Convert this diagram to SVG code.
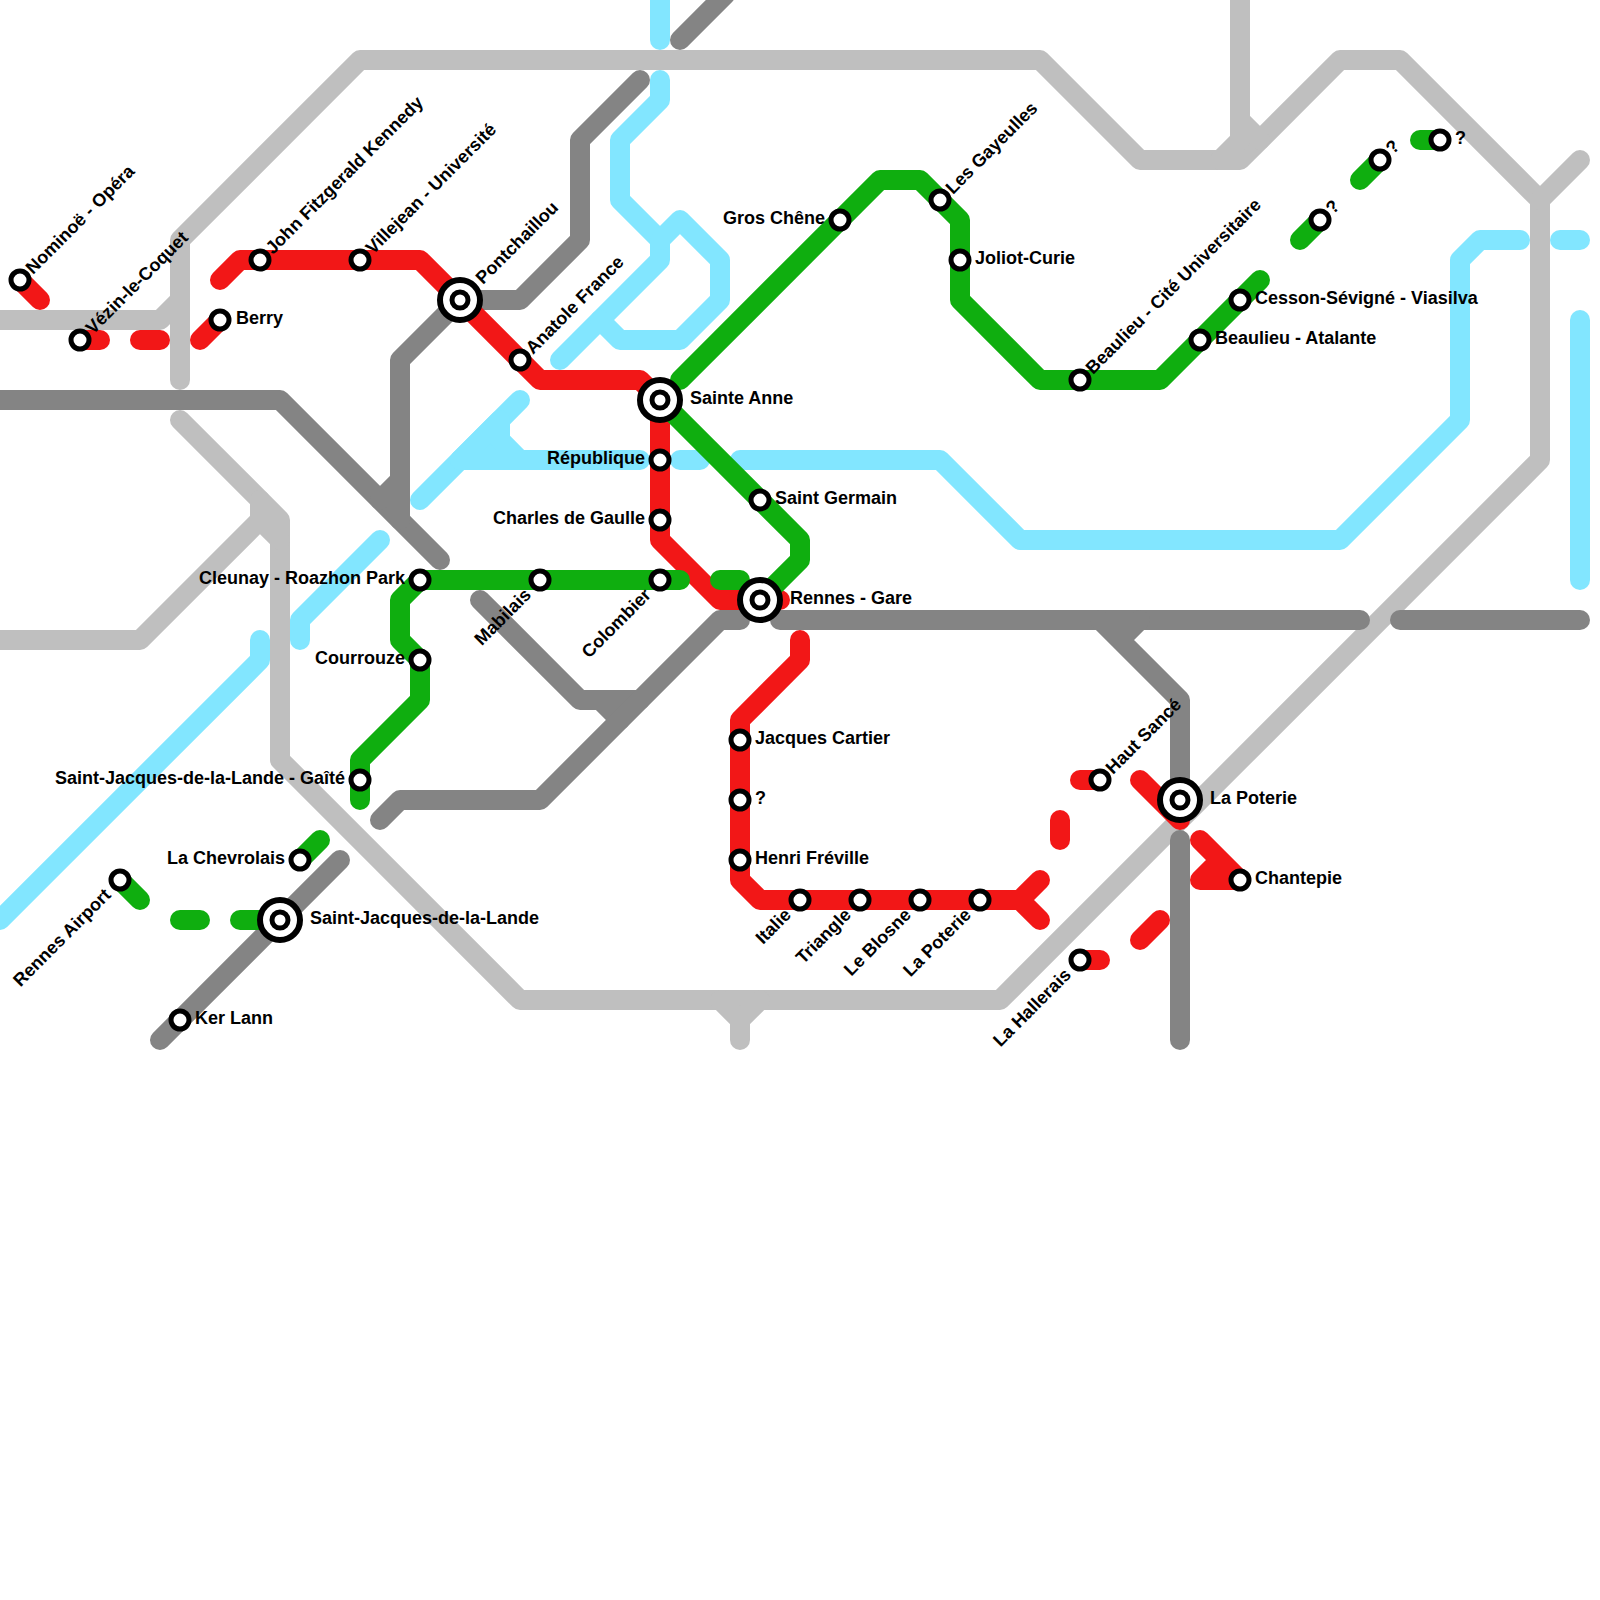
<svg xmlns="http://www.w3.org/2000/svg" width="1600" height="1600" viewBox="0 0 1600 1600">
<style>
.ln{fill:none;stroke-width:20;stroke-linecap:round;stroke-linejoin:round}
.lg{stroke:#bfbfbf}.dg{stroke:#848484}.bl{stroke:#82e6ff}.rd{stroke:#f21717}.gr{stroke:#0fae0f}
.s{fill:#fff;stroke:#000;stroke-width:5}
.b{fill:#fff;stroke:#000;stroke-width:6}
text{font-family:"Liberation Sans",Arial,sans-serif;font-weight:700;font-size:18px;fill:#000}
.e{text-anchor:end}
</style>
<rect width="1600" height="1600" fill="#fff"/>
<g id="connectors">
<g class="ln lg">
<path d="M0 320H160L180 300"/>
<path d="M180 380V240L360 60H1040L1140 160H1240L1340 60H1400L1540 200V460L1000 1000H520L280 760V520L180 420"/>
<path d="M0 640H140L260 520V500M260 520L280 540"/>
<path d="M1240 0V140L1220 160M1240 120L1260 140"/>
<path d="M1540 200L1580 160"/>
<path d="M740 1040V1020L720 1000M740 1020L760 1000"/>
</g>
<g class="ln dg">
<path d="M0 400H280L440 560"/>
<path d="M460 300H520L580 240V140L640 80"/>
<path d="M460 300L400 360V520M400 480L380 500"/>
<path d="M480 600L580 700H640M600 700L620 720"/>
<path d="M380 820L400 800H540L720 620H740"/>
<path d="M780 620H1360"/>
<path d="M1400 620H1580"/>
<path d="M1100 620L1180 700V800M1120 640L1140 620"/>
<path d="M1180 840V1040"/>
<path d="M160 1040L340 860"/>
<path d="M680 40L725 -5"/>
</g>
<g class="ln bl">
<path d="M660 -10V40"/>
<path d="M660 80V100L620 140V200L660 240V260L560 360"/>
<path d="M660 240L680 220L720 260V300L680 340H620L600 320"/>
<path d="M420 500L520 400"/>
<path d="M500 420V440L520 460H460L500 420Z" fill="#82e6ff"/>
<path d="M460 460H640"/>
<path d="M680 460H700"/>
<path d="M740 460H940L1020 540H1340L1460 420V260L1480 240H1520"/>
<path d="M1560 240H1580"/>
<path d="M1580 320V580"/>
<path d="M380 540L300 620V640"/>
<path d="M260 640V660L0 920"/>
</g>
<g class="ln rd">
<path d="M20 280L40 300"/>
<path d="M80 340H100"/>
<path d="M140 340H160"/>
<path d="M200 340L220 320"/>
<path d="M220 280L240 260H420L540 380H640L660 400V540L720 600H780"/>
<path d="M800 640V660L740 720V880L760 900H1020L1040 880M1020 900L1040 920"/>
<path d="M1060 820V840"/>
<path d="M1100 780H1080"/>
<path d="M1140 780L1180 820"/>
<path d="M1200 840L1240 880H1200L1220 860"/>
<path d="M1080 960H1100"/>
<path d="M1140 940L1160 920"/>
</g>
<g class="ln gr">
<path d="M680 380L880 180H920L960 220V300L1040 380H1160L1260 280"/>
<path d="M1320 220L1300 240"/>
<path d="M1380 160L1360 180"/>
<path d="M1420 140H1440"/>
<path d="M660 400L800 540V560L760 600"/>
<path d="M720 580H740"/>
<path d="M680 580H420L400 600V640L420 660V700L360 760V800"/>
<path d="M300 860L320 840"/>
<path d="M120 880L140 900"/>
<path d="M180 920H200"/>
<path d="M240 920H280"/>
</g>
</g>
<g id="n-nominoe"><circle class="s" cx="20" cy="280" r="9"/><text x="33" y="275" transform="rotate(-45 33 275)">Nominoë - Opéra</text></g>
<g id="n-vezin"><circle class="s" cx="80" cy="340" r="9"/><text x="93" y="335" transform="rotate(-45 93 335)">Vézin-le-Coquet</text></g>
<g id="n-berry"><circle class="s" cx="220" cy="320" r="9"/><text x="236" y="324">Berry</text></g>
<g id="n-jfk"><circle class="s" cx="260" cy="260" r="9"/><text x="273" y="255" transform="rotate(-45 273 255)">John Fitzgerald Kennedy</text></g>
<g id="n-villejean"><circle class="s" cx="360" cy="260" r="9"/><text x="373" y="255" transform="rotate(-45 373 255)">Villejean - Université</text></g>
<g id="n-pontchaillou"><circle class="b" cx="460" cy="300" r="20"/><circle class="s" cx="460" cy="300" r="8"/><text x="483" y="285" transform="rotate(-45 483 285)">Pontchaillou</text></g>
<g id="n-anatole"><circle class="s" cx="520" cy="360" r="9"/><text x="533" y="355" transform="rotate(-45 533 355)">Anatole France</text></g>
<g id="n-sainte-anne"><circle class="b" cx="660" cy="400" r="20"/><circle class="s" cx="660" cy="400" r="8"/><text x="690" y="404">Sainte Anne</text></g>
<g id="n-republique"><circle class="s" cx="660" cy="460" r="9"/><text class="e" x="645" y="464">République</text></g>
<g id="n-cdg"><circle class="s" cx="660" cy="520" r="9"/><text class="e" x="645" y="524">Charles de Gaulle</text></g>
<g id="n-colombier"><circle class="s" cx="660" cy="580" r="9"/><text class="e" x="652" y="596" transform="rotate(-45 652 596)">Colombier</text></g>
<g id="n-mabilais"><circle class="s" cx="540" cy="580" r="9"/><text class="e" x="532" y="596" transform="rotate(-45 532 596)">Mabilais</text></g>
<g id="n-cleunay"><circle class="s" cx="420" cy="580" r="9"/><text class="e" x="405" y="584">Cleunay - Roazhon Park</text></g>
<g id="n-courrouze"><circle class="s" cx="420" cy="660" r="9"/><text class="e" x="405" y="664">Courrouze</text></g>
<g id="n-gaite"><circle class="s" cx="360" cy="780" r="9"/><text class="e" x="345" y="784">Saint-Jacques-de-la-Lande - Gaîté</text></g>
<g id="n-chevrolais"><circle class="s" cx="300" cy="860" r="9"/><text class="e" x="285" y="864">La Chevrolais</text></g>
<g id="n-airport"><circle class="s" cx="120" cy="880" r="9"/><text class="e" x="112" y="896" transform="rotate(-45 112 896)">Rennes Airport</text></g>
<g id="n-sjl"><circle class="b" cx="280" cy="920" r="20"/><circle class="s" cx="280" cy="920" r="8"/><text x="310" y="924">Saint-Jacques-de-la-Lande</text></g>
<g id="n-kerlann"><circle class="s" cx="180" cy="1020" r="9"/><text x="195" y="1024">Ker Lann</text></g>
<g id="n-gare"><circle class="b" cx="760" cy="600" r="20"/><circle class="s" cx="760" cy="600" r="8"/><text x="790" y="604">Rennes - Gare</text></g>
<g id="n-germain"><circle class="s" cx="760" cy="500" r="9"/><text x="775" y="504">Saint Germain</text></g>
<g id="n-cartier"><circle class="s" cx="740" cy="740" r="9"/><text x="755" y="744">Jacques Cartier</text></g>
<g id="n-q1"><circle class="s" cx="740" cy="800" r="9"/><text x="755" y="804">?</text></g>
<g id="n-freville"><circle class="s" cx="740" cy="860" r="9"/><text x="755" y="864">Henri Fréville</text></g>
<g id="n-italie"><circle class="s" cx="800" cy="900" r="9"/><text class="e" x="792" y="916" transform="rotate(-45 792 916)">Italie</text></g>
<g id="n-triangle"><circle class="s" cx="860" cy="900" r="9"/><text class="e" x="852" y="916" transform="rotate(-45 852 916)">Triangle</text></g>
<g id="n-blosne"><circle class="s" cx="920" cy="900" r="9"/><text class="e" x="912" y="916" transform="rotate(-45 912 916)">Le Blosne</text></g>
<g id="n-poterie1"><circle class="s" cx="980" cy="900" r="9"/><text class="e" x="972" y="916" transform="rotate(-45 972 916)">La Poterie</text></g>
<g id="n-hautsance"><circle class="s" cx="1100" cy="780" r="9"/><text x="1113" y="775" transform="rotate(-45 1113 775)">Haut Sancé</text></g>
<g id="n-poterie2"><circle class="b" cx="1180" cy="800" r="20"/><circle class="s" cx="1180" cy="800" r="8"/><text x="1210" y="804">La Poterie</text></g>
<g id="n-chantepie"><circle class="s" cx="1240" cy="880" r="9"/><text x="1255" y="884">Chantepie</text></g>
<g id="n-hallerais"><circle class="s" cx="1080" cy="960" r="9"/><text class="e" x="1072" y="976" transform="rotate(-45 1072 976)">La Hallerais</text></g>
<g id="n-groschene"><circle class="s" cx="840" cy="220" r="9"/><text class="e" x="825" y="224">Gros Chêne</text></g>
<g id="n-gayeulles"><circle class="s" cx="940" cy="200" r="9"/><text x="953" y="195" transform="rotate(-45 953 195)">Les Gayeulles</text></g>
<g id="n-joliot"><circle class="s" cx="960" cy="260" r="9"/><text x="975" y="264">Joliot-Curie</text></g>
<g id="n-beaulieu-cite"><circle class="s" cx="1080" cy="380" r="9"/><text x="1093" y="375" transform="rotate(-45 1093 375)">Beaulieu - Cité Universitaire</text></g>
<g id="n-atalante"><circle class="s" cx="1200" cy="340" r="9"/><text x="1215" y="344">Beaulieu - Atalante</text></g>
<g id="n-viasilva"><circle class="s" cx="1240" cy="300" r="9"/><text x="1255" y="304">Cesson-Sévigné - Viasilva</text></g>
<g id="n-q2"><circle class="s" cx="1320" cy="220" r="9"/><text x="1333" y="215" transform="rotate(-45 1333 215)">?</text></g>
<g id="n-q3"><circle class="s" cx="1380" cy="160" r="9"/><text x="1393" y="155" transform="rotate(-45 1393 155)">?</text></g>
<g id="n-q4"><circle class="s" cx="1440" cy="140" r="9"/><text x="1455" y="144">?</text></g>
</svg>
